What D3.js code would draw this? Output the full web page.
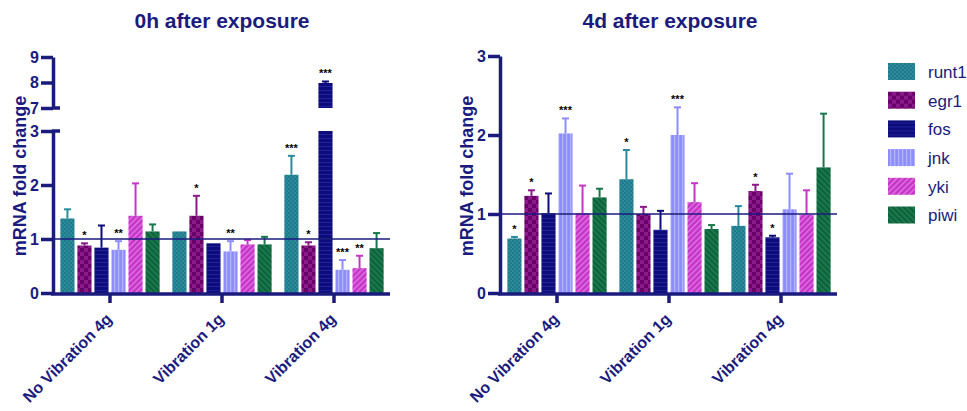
<!DOCTYPE html>
<html>
<head>
<meta charset="utf-8">
<script src="https://cdn.jsdelivr.net/npm/d3@7"></script>
<style>
body { margin: 0; background: #fff; }
text { font-family: Arial, "Liberation Sans", sans-serif; }
</style>
</head>
<body>
<svg id="chart" width="967" height="411"></svg>
<script>
var genes = ["runt1", "egr1", "fos", "jnk", "yki", "piwi"];
var conditions = ["No Vibration 4g", "Vibration 1g", "Vibration 4g"];

// 0h after exposure: rows = genes, columns = conditions
var mean0h = [[1.38, 1.14, 2.19], [0.88, 1.43, 0.88], [0.84, 0.92, 7.98],
              [0.80, 0.77, 0.43], [1.43, 0.90, 0.46], [1.14, 0.90, 0.83]];
var err0h  = [[0.17, 0.00, 0.35], [0.04, 0.37, 0.06], [0.41, 0.00, 0.06],
              [0.16, 0.19, 0.18], [0.60, 0.08, 0.23], [0.13, 0.14, 0.28]];
var sig0h  = [["", "", "***"], ["*", "*", "*"], ["", "", "***"],
              ["**", "**", "***"], ["", "", "**"], ["", "", ""]];

// 4d after exposure
var mean4d = [[0.69, 1.44, 0.85], [1.23, 1.00, 1.29], [1.01, 0.80, 0.705],
              [2.02, 2.00, 1.06], [1.01, 1.15, 0.99], [1.21, 0.81, 1.59]];
var err4d  = [[0.02, 0.37, 0.25], [0.07, 0.09, 0.08], [0.25, 0.24, 0.02],
              [0.19, 0.35, 0.45], [0.35, 0.24, 0.31], [0.11, 0.05, 0.68]];
var sig4d  = [["*", "*", ""], ["*", "", "*"], ["", "", "*"],
              ["***", "***", ""], ["", "", ""], ["", "", ""]];

var lowTicks = [0, 1, 2, 3];
var highTicks = [7, 8, 9];

var navy = "#1b1b7e";
var barColors = ["#2a8c9b", "#8a1a8a", "#0c0c7a", "#8d8dff", "#c634c8", "#17784b"];

var svg = d3.select("#chart");
var defs = svg.append("defs");

// fill patterns, roughly like the prism hatches
function makePattern(i, size, rotate, draw) {
    var p = defs.append("pattern")
        .attr("id", "pat" + i)
        .attr("patternUnits", "userSpaceOnUse")
        .attr("width", size).attr("height", size);
    if (rotate) p.attr("patternTransform", "rotate(" + rotate + ")");
    p.append("rect").attr("width", size).attr("height", size).attr("fill", barColors[i]);
    draw(p);
}
makePattern(0, 4, 0, function(p) {
    p.append("rect").attr("width", 2).attr("height", 2).attr("fill", "#22798a");
    p.append("rect").attr("x", 2).attr("y", 2).attr("width", 2).attr("height", 2).attr("fill", "#22798a");
});
makePattern(1, 8, 0, function(p) {
    p.append("rect").attr("width", 4).attr("height", 4).attr("fill", "#680068");
    p.append("rect").attr("x", 4).attr("y", 4).attr("width", 4).attr("height", 4).attr("fill", "#680068");
});
makePattern(2, 4, 0, function(p) {
    p.append("rect").attr("y", 2).attr("width", 4).attr("height", 1).attr("fill", "#22229a");
});
makePattern(3, 4, 0, function(p) {
    p.append("rect").attr("x", 2).attr("width", 1.3).attr("height", 4).attr("fill", "#b2b2ff");
});
makePattern(4, 4, 45, function(p) {
    p.append("rect").attr("x", 2).attr("width", 1.3).attr("height", 4).attr("fill", "#e27ae4");
});
makePattern(5, 4, -45, function(p) {
    p.append("rect").attr("x", 2).attr("width", 1.3).attr("height", 4).attr("fill", "#0c5533");
});

function styleAxis(g) {
    g.select(".domain").attr("stroke", navy).attr("stroke-width", 3.5);
    g.selectAll(".tick line").attr("stroke", navy).attr("stroke-width", 3.5);
    g.selectAll(".tick text").attr("fill", navy)
        .style("font-size", "16px").style("font-weight", "bold");
}

function drawPanel(cfg) {
    var g = svg.append("g");
    var x0 = d3.scaleBand().domain(conditions).range([cfg.left, cfg.right]);
    var x1 = d3.scaleBand().domain(genes).range([5, x0.bandwidth() - 5])
        .paddingInner(0.17).paddingOuter(0.08);
    var yLow = d3.scaleLinear().domain([0, 3]).range([cfg.bottom, cfg.lowTop]);
    var yHigh = cfg.highRange ? d3.scaleLinear().domain([7, 9]).range(cfg.highRange) : null;
    var yPos = function(v) { return (yHigh && v > 5) ? yHigh(v) : yLow(v); };

    var marks = [];
    genes.forEach(function(gene, i) {
        conditions.forEach(function(c, j) {
            marks.push({gene: i, cond: c, v: cfg.means[i][j], e: cfg.errs[i][j], s: cfg.sigs[i][j]});
        });
    });

    // bars (split when the value runs past the axis break)
    marks.forEach(function(d) {
        var bx = x0(d.cond) + x1(genes[d.gene]);
        var parts = (yHigh && d.v > 5) ? [[0, 3, yLow], [7, d.v, yHigh]] : [[0, d.v, yLow]];
        parts.forEach(function(p) {
            g.append("rect")
                .attr("x", bx).attr("width", x1.bandwidth())
                .attr("y", p[2](p[1])).attr("height", p[2](p[0]) - p[2](p[1]))
                .attr("fill", "url(#pat" + d.gene + ")");
        });
        d.cx = bx + x1.bandwidth() / 2;
    });

    // error bars
    marks.filter(function(d) { return d.e > 0.015; }).forEach(function(d) {
        var col = barColors[d.gene];
        g.append("line").attr("x1", d.cx).attr("x2", d.cx)
            .attr("y1", yPos(d.v)).attr("y2", yPos(d.v + d.e))
            .attr("stroke", col).attr("stroke-width", 2);
        g.append("line").attr("x1", d.cx - 3.5).attr("x2", d.cx + 3.5)
            .attr("y1", yPos(d.v + d.e)).attr("y2", yPos(d.v + d.e))
            .attr("stroke", col).attr("stroke-width", 2);
    });

    // significance stars
    g.selectAll("text.sig").data(marks.filter(function(d) { return d.s; }))
        .enter().append("text").attr("class", "sig")
        .attr("x", function(d) { return d.cx; })
        .attr("y", function(d) { return yPos(d.v + d.e) - 4; })
        .attr("text-anchor", "middle")
        .style("font-size", "11px").style("font-weight", "bold")
        .text(function(d) { return d.s; });

    // reference line at 1
    g.append("line").attr("x1", cfg.left).attr("x2", cfg.right)
        .attr("y1", yLow(1)).attr("y2", yLow(1))
        .attr("stroke", navy).attr("stroke-width", 1.5);

    // y axis
    var ax = g.append("g").attr("transform", "translate(" + (cfg.left - 1) + ",0)")
        .call(d3.axisLeft(yLow).tickValues(lowTicks).tickSize(12).tickSizeOuter(0).tickPadding(2)
            .tickFormat(d3.format("d")));
    styleAxis(ax);
    if (yHigh) {
        var ax2 = g.append("g").attr("transform", "translate(" + (cfg.left - 1) + ",0)")
            .call(d3.axisLeft(yHigh).tickValues(highTicks).tickSize(12).tickSizeOuter(0).tickPadding(2)
                .tickFormat(d3.format("d")));
        styleAxis(ax2);
        [yLow(3), yHigh(7)].forEach(function(yy) {
            g.append("line").attr("x1", cfg.left - 2).attr("x2", cfg.left + 6)
                .attr("y1", yy).attr("y2", yy)
                .attr("stroke", navy).attr("stroke-width", 3.5);
        });
    }

    // x axis
    var xa = g.append("g").attr("transform", "translate(0," + (cfg.bottom + 1) + ")")
        .call(d3.axisBottom(x0).tickSize(9).tickSizeOuter(0).tickFormat(""));
    xa.select(".domain").attr("d", "M" + (cfg.left - 3) + ",0H" + cfg.right);
    styleAxis(xa);
    g.selectAll("text.xl").data(conditions).enter().append("text").attr("class", "xl")
        .attr("transform", function(d) {
            return "translate(" + (x0(d) + x0.bandwidth() / 2 + 3) + "," + (cfg.bottom + 27) + ") rotate(-45)";
        })
        .attr("text-anchor", "end")
        .attr("fill", navy)
        .style("font-size", "16px").style("font-weight", "bold")
        .text(function(d) { return d; });

    // titles
    g.append("text").attr("x", cfg.titleX).attr("y", 28).attr("text-anchor", "middle")
        .attr("fill", navy).style("font-size", "21px").style("font-weight", "bold")
        .text(cfg.title);
    g.append("text").attr("transform", "translate(" + cfg.labelX + ",176) rotate(-90)")
        .attr("text-anchor", "middle").attr("fill", navy)
        .style("font-size", "18px").style("font-weight", "bold")
        .text("mRNA fold change");
}

drawPanel({left: 54, right: 390, bottom: 293, lowTop: 131, highRange: [108, 57],
    means: mean0h, errs: err0h, sigs: sig0h,
    title: "0h after exposure", titleX: 222, labelX: 26});
drawPanel({left: 501, right: 837, bottom: 293, lowTop: 56, highRange: null,
    means: mean4d, errs: err4d, sigs: sig4d,
    title: "4d after exposure", titleX: 670, labelX: 473});

// legend
var legend = svg.append("g").attr("transform", "translate(888,63)");
genes.forEach(function(gene, i) {
    var row = legend.append("g").attr("transform", "translate(0," + (i * 28.7) + ")");
    row.append("rect").attr("width", 27).attr("height", 17)
        .attr("fill", "url(#pat" + i + ")");
    row.append("text").attr("x", 40).attr("y", 9).attr("dy", "0.35em")
        .attr("fill", navy).style("font-size", "17px")
        .text(gene);
});
</script>
</body>
</html>
